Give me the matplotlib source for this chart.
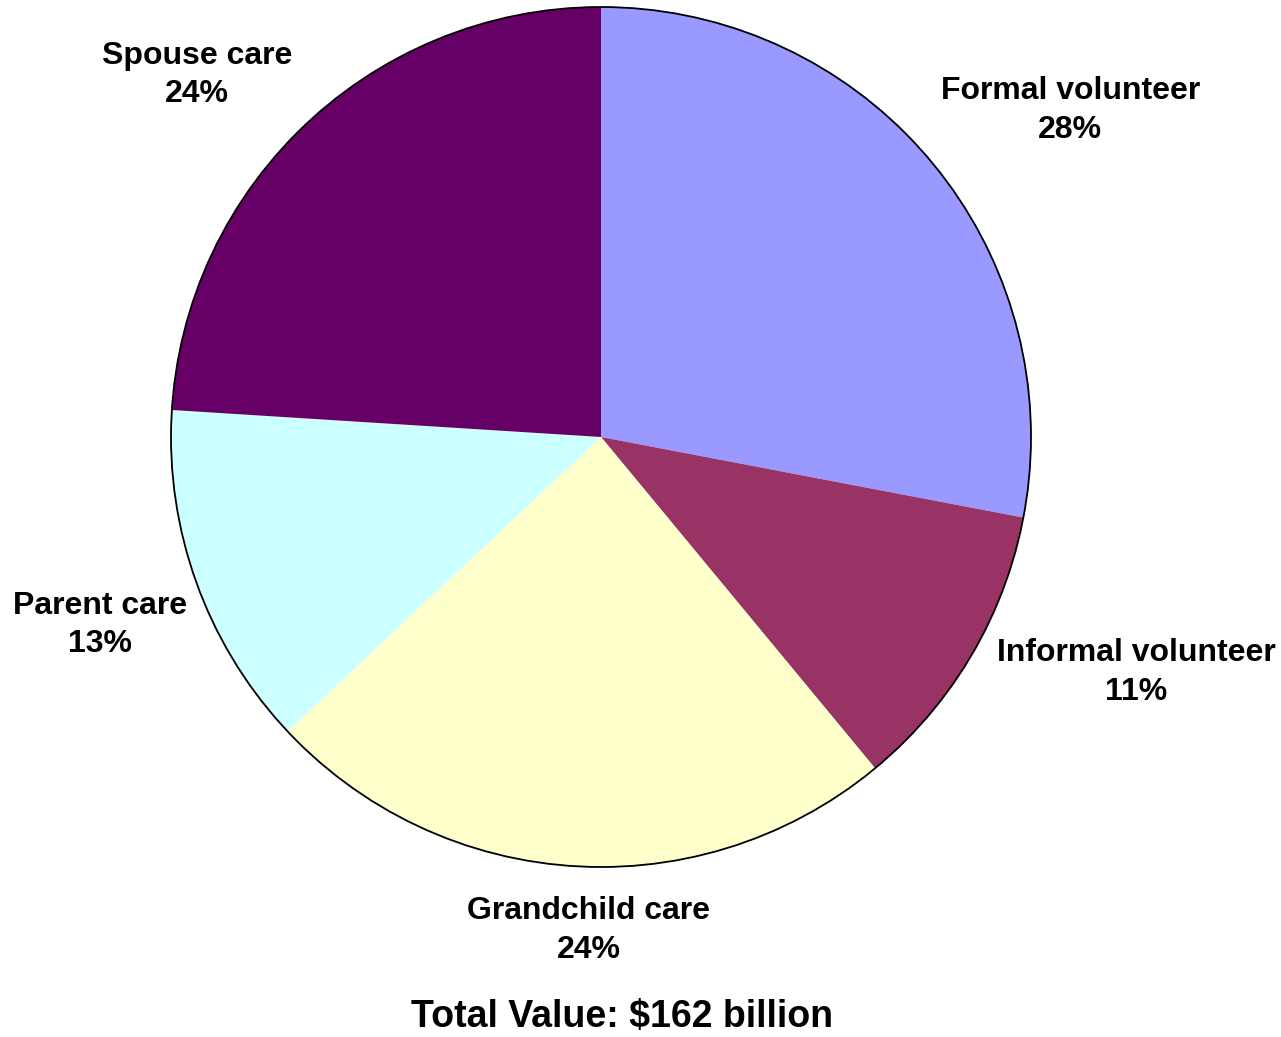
import matplotlib.pyplot as plt

plt.rcParams['font.family'] = ['Liberation Sans', 'DejaVu Sans']

# share of total value by activity, clockwise from 12 o'clock
activities = ['Formal volunteer', 'Informal volunteer', 'Grandchild care',
              'Parent care', 'Spouse care']
shares = [28, 11, 24, 13, 24]
colors = ['#9999FF', '#993366', '#FFFFCC', '#CCFFFF', '#660066']
total_label = 'Total Value: $162 billion'

# label centres in pie units (radius = 1)
label_pos = [(1.091, 0.760), (1.244, -0.547), (-0.028, -1.147),
             (-1.165, -0.437), (-0.940, 0.842)]

fig = plt.figure(figsize=(12.81, 10.37), dpi=100)
ax = fig.add_axes([0, 0, 1, 1])

wedges, _ = ax.pie(shares, colors=colors, startangle=90, counterclock=False,
                   radius=1.0, wedgeprops=dict(linewidth=0))

# black outline around the whole pie only
outline = plt.Circle((0, 0), 1.0, fill=False, edgecolor='black', linewidth=1.3)
ax.add_patch(outline)

for name, val, (x, y) in zip(activities, shares, label_pos):
    ax.text(x, y, f'{name}\n{val}%', ha='center', va='center',
            multialignment='center', fontsize=23, fontweight='bold',
            linespacing=1.38)

ax.text(0.049, -1.350, total_label, ha='center', va='center',
        fontsize=27, fontweight='bold')

# 430 px per unit, centre at (601, 437) px
ax.set_xlim(-601 / 430, (1281 - 601) / 430)
ax.set_ylim((437 - 1037) / 430, 437 / 430)
ax.set_aspect('auto')
ax.axis('off')

fig.savefig('out.png', dpi=100, facecolor='white')
